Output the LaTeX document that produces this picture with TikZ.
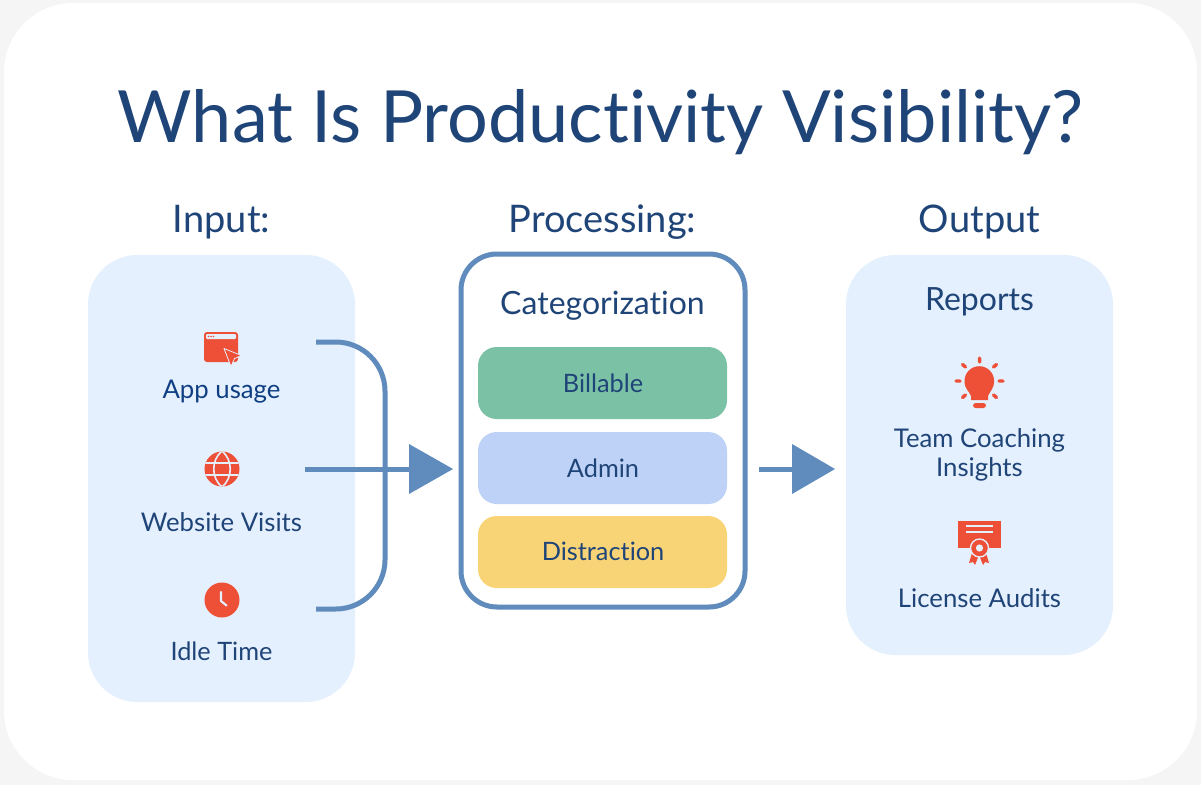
\documentclass[tikz,border=0pt]{standalone}
\usepackage{fontspec}
\setmainfont{Lato}[RawFeature={-liga}]
\definecolor{outer}{HTML}{F5F5F5}
\definecolor{navy}{HTML}{1F4477}
\definecolor{navyb}{HTML}{0F3F82}
\definecolor{panel}{HTML}{E5F0FE}
\definecolor{flow}{HTML}{5F8BBD}
\definecolor{icon}{HTML}{EE4F37}
\definecolor{green}{HTML}{7BC1A6}
\definecolor{adminc}{HTML}{BDD2F6}
\definecolor{distc}{HTML}{F9D477}
\newcommand{\boxat}[5][]{\node[#1,minimum width=#4*0.75pt,minimum height=#5*0.75pt] (#2) at (#3) {};}
\tikzset{
 x=0.75pt,y=-0.75pt,
 panelbox/.style={fill=panel,rounded corners=37pt,inner sep=0pt,draw=none},
 procbox/.style={fill=white,draw=flow,line width=3.75pt,rounded corners=27pt,inner sep=0pt},
 pill/.style={rounded corners=14pt,inner sep=0pt,draw=none},
 titletxt/.style={text=navy,font=\fontsize{54}{62}\selectfont,inner sep=0pt},
 headtxt/.style={text=navy,font=\fontsize{28.5}{34}\selectfont,inner sep=0pt},
 subtxt/.style={text=navy,font=\fontsize{24}{29}\selectfont,inner sep=0pt},
 labtxt/.style={text=navy,font=\fontsize{19.3}{22}\selectfont,inner sep=0pt,align=center},
 flowline/.style={draw=flow,line width=3.75pt},
 tri/.style={fill=flow,draw=none},
 wl/.style={draw=panel,line width=1.2pt},
}
\begin{document}
\begin{tikzpicture}
\useasboundingbox (0,0) rectangle (1201,785);
\fill[outer] (0,0) rectangle (1201,785);
\fill[white,rounded corners=52pt] (4,3) rectangle (1197,780);
\node[titletxt] (title) at (600.5,122) {What Is Productivity Visibility?};
\node[headtxt] (hin) at (221.5,222) {Input:};
\node[headtxt] (hproc) at (602.5,222) {Processing:};
\node[headtxt] (hout) at (979.5,222) {Output};
\boxat[panelbox]{inp}{221.5,478.5}{267}{447}
\boxat[procbox]{proc}{603,430.5}{284}{353}
\boxat[panelbox]{outp}{979.5,455}{267}{400}
\boxat[pill,fill=green]{bill}{602.5,383}{249}{72}
\boxat[pill,fill=adminc]{adm}{602.5,468}{249}{72}
\boxat[pill,fill=distc]{dist}{602.5,552}{249}{72}
\node[subtxt] (cat) at (602.5,306) {Categorization};
\node[labtxt,font=\fontsize{19}{22}\selectfont] at (603,383) (tb) {Billable};
\node[labtxt,font=\fontsize{19}{22}\selectfont] at (603,468.5) (ta) {Admin};
\node[labtxt,font=\fontsize{19}{22}\selectfont] at (603,551.5) (td) {Distraction};
\node[subtxt] (rep) at (979.5,302) {Reports};
\node[labtxt,text=navyb] (app) at (221.5,392) {App usage};
\node[labtxt] (web) at (221.5,522) {Website Visits};
\node[labtxt,font=\fontsize{19}{22}\selectfont] (idle) at (221.5,651) {Idle Time};
\node[labtxt] (team) at (979.5,455) {Team Coaching\\Insights};
\node[labtxt] (lic) at (979.5,598.5) {License Audits};
% connectors
\coordinate (b1) at (316,342);
\coordinate (b2) at (316,609);
\coordinate (m1) at (305,469);
\coordinate (t1) at (453,469);
\coordinate (m2) at (759,469);
\coordinate (t2) at (835,469);
\draw[flowline,rounded corners=37pt] (b1) -- (385,342) -- (385,609) -- (b2);
\draw[flowline] (m1) -- (410,469);
\fill[tri] (t1) -- (409,444) -- (409,494) -- cycle;
\draw[flowline] (m2) -- (793,469);
\fill[tri] (t2) -- (792,444) -- (792,494) -- cycle;
% app icon
\fill[icon,rounded corners=2.2pt] (204,332) rectangle (238,362);
\fill[panel,rounded corners=0.8pt] (206,334) rectangle (236,339);
\foreach \x in {208.5,211,213.5} \fill[icon] (\x,336.5) circle (0.9);
\filldraw[fill=icon,draw=panel,line width=0.6pt,line join=round] (224,348.5) -- (241.5,355.5) -- (234.5,358.5) -- (231,366.5) -- cycle;
% globe
\fill[icon] (222,469) circle (17.5);
\begin{scope}
\clip (222,469) circle (17.5);
\draw[wl] (204,463) -- (240,463) (204,475) -- (240,475);
\draw[wl] (222,451) .. controls (211,460) and (211,478) .. (222,487);
\draw[wl] (222,451) .. controls (233,460) and (233,478) .. (222,487);
\end{scope}
% clock
\fill[icon] (222,600) circle (17.5);
\draw[panel,line width=1.6pt,line cap=round,line join=round] (221,592) -- (221,601) -- (226.5,605.5);
% bulb
\fill[icon] (971,400) -- (971,396) .. controls (969,391) and (964.5,389) .. (964.5,381) arc (180:360:14.8) .. controls (994,389) and (990,391) .. (988,396) -- (988,400) -- cycle;
\fill[icon,rounded corners=2pt] (973,403) rectangle (986,408);
\draw[icon,line width=2.6pt,line cap=round]
 (979.5,358) -- (979.5,362) (962.5,364.5) -- (965.5,367) (996.5,364.5) -- (993.5,367)
 (956,381) -- (960,381) (999,381) -- (1003,381)
 (962.5,397.5) -- (965.5,395) (996.5,397.5) -- (993.5,395);
% certificate
\fill[icon] (958,521) rectangle (1001,548);
\draw[panel,line width=1pt] (966,526) -- (993,526) (966,532) -- (993,532);
\fill[icon] (972,553) -- (969,563) -- (973,562) -- (975,565) -- (979,555) -- (983,565) -- (985,562) -- (989,563) -- (986,553) -- cycle;
\filldraw[fill=icon,draw=panel,line width=1pt] (979.5,548) circle (9);
\fill[panel] (979.5,548) circle (3.6);
\end{tikzpicture}
\end{document}
